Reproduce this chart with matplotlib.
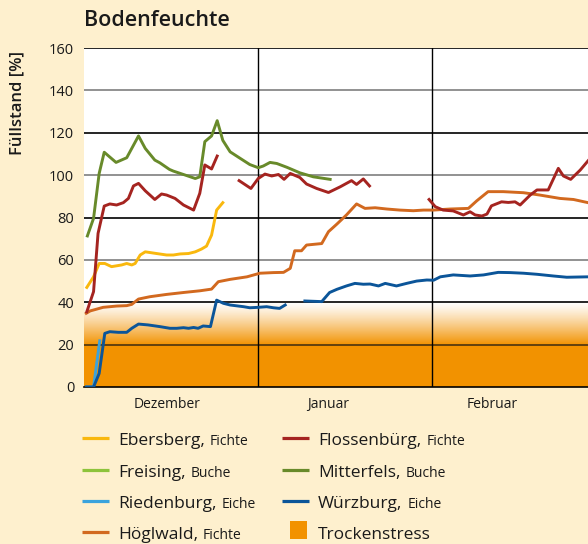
import numpy as np
import matplotlib
matplotlib.use("Agg")
import matplotlib.pyplot as plt
from matplotlib.colors import to_rgb

plt.rcParams['font.family'] = ['Open Sans', 'DejaVu Sans']

# ---------------- data (x = days since 1 December) ----------------
nan = np.nan
mitterfels_x = [0.6, 1.7, 2.7, 3.6, 5.7, 7.6, 9.7, 10.9, 12.6, 13.5, 15.2, 15.9, 17.7, 19.8, 20.6,
                21.5, 22.7, 23.7, 24.7, 26.0, 27.8, 29.5, 31.0, 31.9, 33.1, 34.3, 36.1, 38.4, 40.8, 43.8]
mitterfels_y = [71.3, 79.6, 100.8, 110.8, 106.0, 108.2, 118.5, 112.6, 107.1, 105.8, 102.7, 101.9, 100.3, 98.4, 99.2,
                115.8, 118.5, 125.7, 116.4, 111.0, 107.9, 105.0, 103.5, 104.3, 106.0, 105.5, 103.7, 101.1, 99.2, 98.0]

flossenburg_x = [0.5, 1.7, 2.5, 3.6, 4.6, 5.8, 7.0, 7.9, 8.8, 9.7, 10.9, 12.6, 13.8, 14.7, 16.2, 17.7, 19.5, 20.6,
                 21.5, 22.7, 23.7, 25.5,
                 27.6, 29.7, 31.0, 32.2, 33.4, 34.6, 35.6, 36.7, 38.4, 39.6, 41.4, 43.5, 45.6, 47.6, 48.5, 49.7, 50.8,
                 55.0,
                 61.4, 62.5, 63.9, 65.7, 67.5, 68.7, 69.6, 70.8, 71.7, 72.5, 74.3, 75.5, 76.7, 77.6, 79.4, 80.6, 82.6,
                 84.4, 85.3, 86.6, 88.3, 89.7]
flossenburg_y = [35.5, 45.0, 72.5, 85.4, 86.4, 85.9, 87.0, 89.0, 94.9, 96.1, 92.6, 88.5, 91.1, 90.6, 89.0, 85.9, 83.5, 91.4,
                 104.8, 102.9, 109.0, nan,
                 97.4, 93.7, 98.4, 100.5, 99.6, 100.3, 98.0, 100.8, 98.9, 95.8, 93.7, 91.8, 94.5, 97.4, 95.6, 98.2, 94.9,
                 nan,
                 88.5, 85.1, 83.5, 83.1, 81.2, 82.7, 81.2, 80.7, 81.6, 85.5, 87.4, 87.1, 87.4, 85.9, 90.6, 93.0, 93.0,
                 103.2, 99.6, 98.0, 102.4, 106.8]

ebersberg_x = [0.5, 1.7, 2.7, 3.7, 4.9, 6.7, 7.6, 8.5, 9.1, 10.0, 10.9, 12.9, 14.7, 15.9, 17.1, 18.6, 19.8, 20.9,
               21.8, 22.7, 23.6, 24.7]
ebersberg_y = [47.0, 52.0, 58.3, 58.3, 56.8, 57.6, 58.3, 57.6, 58.3, 62.3, 63.8, 63.0, 62.3, 62.3, 62.8, 63.0, 63.8, 65.1,
               66.5, 71.7, 83.5, 87.0]

riedenburg_x = [0.5, 1.7, 2.8]
riedenburg_y = [0.0, 0.0, 21.8]

wurzburg_x = [0.4, 1.7, 2.7, 3.7, 4.6, 6.1, 7.6, 8.5, 9.7, 11.4, 13.5, 15.3, 16.5, 17.7, 18.6, 19.5, 20.3, 21.2, 22.5,
              23.6, 24.8, 26.0, 28.4, 29.5, 31.0, 32.5, 33.7, 34.8, 35.8,
              37.5,
              39.3, 42.3, 43.7, 45.0, 46.7, 48.2, 49.7, 50.9, 52.4, 53.6, 55.6, 57.4, 59.2, 61.0, 62.2, 63.4, 65.7,
              68.7, 71.1, 73.7, 75.8, 78.2, 80.6, 83.5, 85.9, 89.7]
wurzburg_y = [0.0, 0.0, 6.4, 25.3, 26.1, 25.8, 25.8, 27.7, 29.7, 29.3, 28.5, 27.7, 27.7, 28.0, 27.7, 28.1, 27.7, 28.8, 28.5,
              41.0, 39.5, 38.7, 37.9, 37.4, 37.6, 37.9, 37.4, 37.1, 38.7,
              nan,
              40.6, 40.3, 44.6, 46.1, 47.7, 48.9, 48.5, 48.6, 47.7, 48.9, 47.7, 48.9, 50.0, 50.5, 50.4, 52.0, 52.9,
              52.4, 52.9, 54.1, 54.0, 53.7, 53.2, 52.4, 51.8, 52.0]

hoglwald_x = [0.4, 1.1, 3.4, 5.8, 7.6, 8.5, 9.7, 11.7, 14.7, 17.7, 20.6, 22.7, 23.9, 26.0, 29.0, 31.3, 33.7, 35.5,
              36.7, 37.5, 38.7, 39.6, 42.3, 43.5, 45.0, 46.7, 48.5, 50.0, 51.8, 53.9, 56.2, 58.6, 60.4, 62.2,
              65.1, 68.4, 69.9, 71.9, 74.6, 78.2, 81.1, 84.7, 87.1, 89.7]
hoglwald_y = [34.8, 35.9, 37.6, 38.2, 38.4, 39.0, 41.5, 42.6, 43.7, 44.6, 45.4, 46.2, 49.7, 50.8, 52.0, 53.7, 54.0, 54.1,
              56.0, 64.3, 64.3, 67.0, 67.7, 73.3, 76.9, 81.2, 86.4, 84.3, 84.6, 84.0, 83.5, 83.2, 83.5, 83.5,
              84.0, 84.3, 87.9, 92.2, 92.2, 91.7, 90.6, 89.0, 88.5, 87.0]

freising_x = []
freising_y = []

month_labels = ['Dezember', 'Januar', 'Februar']
month_label_pos = [14.8, 43.4, 72.6]
month_starts = [31, 62]
y_ticks = [0, 20, 40, 60, 80, 100, 120, 140, 160]
stress_full = 20
stress_fade = 40

# ---------------- styling ----------------
BG = '#FEF0CE'
C_EBERS = '#F9B80E'
C_FLOSS = '#A52420'
C_FREIS = '#8DC33B'
C_MITT = '#688A2A'
C_RIED = '#3AA3DD'
C_WURZ = '#0B5599'
C_HOGL = '#D2691F'
C_STRESS = '#F29200'
TXT = '#1a1a1a'

fig = plt.figure(figsize=(5.88, 5.44), dpi=100, facecolor=BG)
ax = fig.add_axes([84/588, 157/544, 504/588, 339/544])
ax.set_facecolor('white')
XMAX = 504/5.62

# drought stress area: solid below 20, gradient to white up to 40
ax.axhspan(0, stress_full, color=C_STRESS, lw=0, zorder=0)
n = 256
t = np.linspace(0, 1, n)  # 0 at y=20, 1 at y=40
alpha = (1 - t) ** 1.2
rgb = np.array(to_rgb(C_STRESS))
img = np.ones((n, 1, 3)) * (1 - alpha[:, None, None]) + rgb[None, None, :] * alpha[:, None, None]
ax.imshow(img, extent=[0, XMAX, stress_full, stress_fade], origin='lower', aspect='auto', zorder=0.5,
          interpolation='bilinear')
ax.set_xlim(0, XMAX)
ax.set_ylim(0, 160)

# gridlines
for v in y_ticks[1:]:
    if v in (60, 100, 140):
        col = '#7f7f7f'
    elif v == 20:
        col = '#4a3410'
    else:
        col = 'black'
    ax.axhline(v, color=col, lw=1.2, zorder=1)
for m in month_starts:
    ax.axvline(m, color='black', lw=1.0, zorder=1)

lw = 2.1
ax.plot(hoglwald_x, hoglwald_y, color=C_HOGL, lw=lw, zorder=3)
ax.plot(wurzburg_x, wurzburg_y, color=C_WURZ, lw=lw, zorder=3)
ax.plot(riedenburg_x, riedenburg_y, color=C_RIED, lw=lw, zorder=2.9)
ax.plot(ebersberg_x, ebersberg_y, color=C_EBERS, lw=lw, zorder=3)
ax.plot(mitterfels_x, mitterfels_y, color=C_MITT, lw=lw, zorder=3)
ax.plot(flossenburg_x, flossenburg_y, color=C_FLOSS, lw=lw, zorder=3)
if freising_x:
    ax.plot(freising_x, freising_y, color=C_FREIS, lw=lw, zorder=3)

for s in ['left', 'right', 'top']:
    ax.spines[s].set_visible(False)
ax.spines['bottom'].set_color('black')
ax.spines['bottom'].set_linewidth(1.2)

ax.set_yticks(y_ticks)
ax.set_yticklabels([str(v) for v in y_ticks], fontsize=10.5, color=TXT)
ax.tick_params(axis='y', length=0, pad=7)
ax.set_xticks(month_label_pos)
ax.set_xticklabels(month_labels, fontsize=10, color=TXT)
ax.tick_params(axis='x', length=0, pad=7)

fig.text(84/588, 1 - 21/544, 'Bodenfeuchte', fontsize=15.5, fontweight='semibold', va='center', ha='left',
         color=TXT)
fig.text(17/588, 1 - 103/544, 'Füllstand [%]', fontsize=12, fontweight='semibold', rotation=90,
         va='center', ha='center', color=TXT)

# ---------------- legend (pixel coordinates) ----------------
lax = fig.add_axes([0, 0, 1, 1], facecolor='none')
lax.set_xlim(0, 588)
lax.set_ylim(544, 0)
lax.axis('off')

entries = [
    (82, 439, C_EBERS, 'Ebersberg,', 'Fichte'),
    (82, 471, C_FREIS, 'Freising,', 'Buche'),
    (82, 502, C_RIED, 'Riedenburg,', 'Eiche'),
    (82, 533, C_HOGL, 'Höglwald,', 'Fichte'),
    (282, 439, C_FLOSS, 'Flossenbürg,', 'Fichte'),
    (282, 471, C_MITT, 'Mitterfels,', 'Buche'),
    (282, 502, C_WURZ, 'Würzburg,', 'Eiche'),
]
renderer = fig.canvas.get_renderer()
for x0, y0, col, big, small in entries:
    lax.plot([x0, x0 + 27], [y0 - 1, y0 - 1], color=col, lw=2.3, solid_capstyle='butt')
    t1 = lax.text(x0 + 36, y0 + 6, big, fontsize=12.5, va='baseline', ha='left', color=TXT)
    bb = t1.get_window_extent(renderer=renderer)
    x_end = lax.transData.inverted().transform((bb.x1, 0))[0]
    lax.text(x_end + 5, y0 + 6, small, fontsize=10, va='baseline', ha='left', color=TXT)
lax.add_patch(plt.Rectangle((290, 521), 17, 18, color=C_STRESS, lw=0))
lax.text(318, 539, 'Trockenstress', fontsize=12.5, va='baseline', ha='left', color=TXT)

fig.savefig('out.png', dpi=100, facecolor=BG)
